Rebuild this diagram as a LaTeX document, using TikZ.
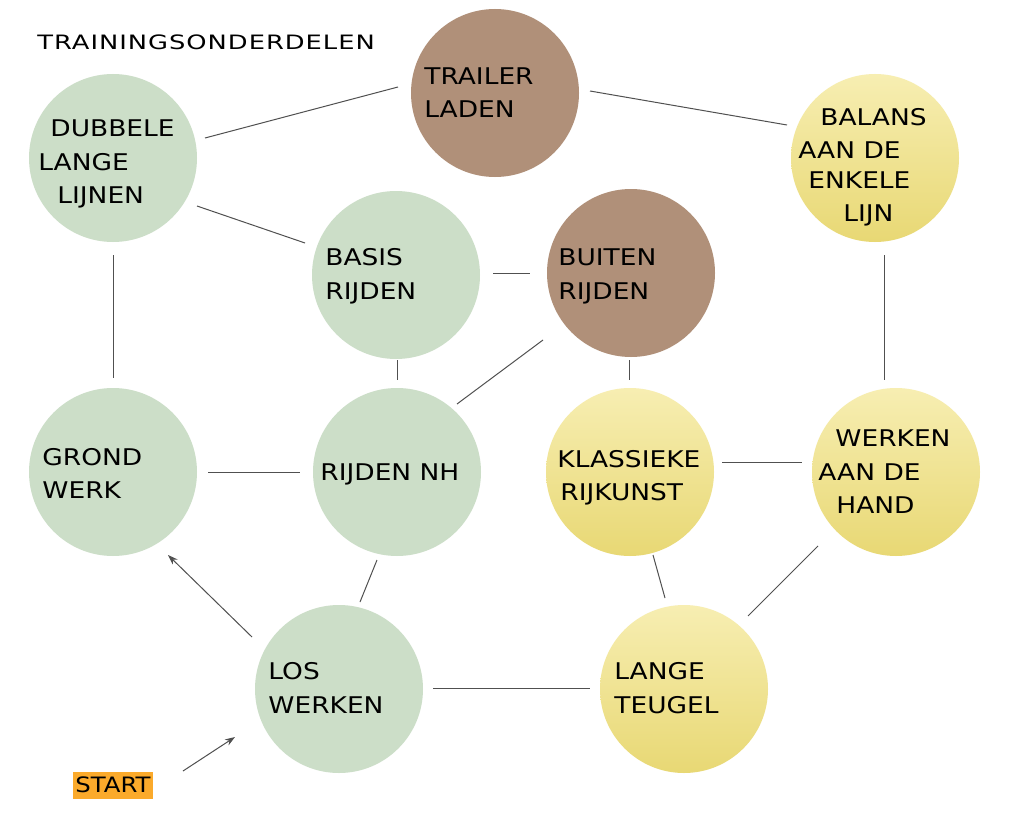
\documentclass[tikz,border=0pt]{standalone}
\usepackage{fontspec}
\setmainfont{DejaVu Sans}[FakeStretch=1.15]
\newfontfamily\titlefont{DejaVu Sans}[FakeStretch=1.3,LetterSpace=5]
\usetikzlibrary{calc,arrows.meta}
\definecolor{cgreen}{HTML}{CCDEC8}
\definecolor{cbrown}{HTML}{B09079}
\definecolor{cyeltop}{HTML}{F7EEB2}
\definecolor{cyelbot}{HTML}{E8D874}
\definecolor{corange}{HTML}{FBAA2B}
\definecolor{cline}{HTML}{505050}
\tikzset{
  circ/.style={circle,minimum size=84pt,inner sep=0pt,draw=none},
  green/.style={circ,fill=cgreen},
  brown/.style={circ,fill=cbrown},
  yellow/.style={circ,top color=cyeltop,bottom color=cyelbot},
  lbl/.style={anchor=base west,inner sep=0pt,font=\fontsize{11.5}{14}\selectfont,text=black},
  conn/.style={draw=cline,line width=0.5pt},
  arr/.style={conn,-{Stealth[length=5pt,width=3.5pt]}},
}
\begin{document}
\begin{tikzpicture}[x=0.5pt,y=-0.5pt]
\fill[white] (0,0) rectangle (1028,840);
\useasboundingbox (0,0) rectangle (1028,840);

% circles
\node[green]  (dll) at (113,158) {};
\node[brown]  (tl)  at (495,93) {};
\node[yellow] (bal) at (875,158) {};
\node[green]  (bas) at (396,275) {};
\node[brown]  (bui) at (631,273) {};
\node[green]  (gro) at (113,472) {};
\node[green]  (rnh) at (397,472) {};
\node[yellow] (kla) at (630,472) {};
\node[yellow] (wah) at (896,472) {};
\node[green]  (los) at (339,689) {};
\node[yellow] (lan) at (684,689) {};

% title
\node[anchor=base west,inner sep=0pt,font=\titlefont\fontsize{9.9}{12}\selectfont] (title) at (37,50) {TRAININGSONDERDELEN};

% labels
\node[lbl] (l1a) at (50,136) {DUBBELE};
\node[lbl] (l1b) at (38,170) {LANGE};
\node[lbl] (l1c) at (57,203) {LIJNEN};
\node[lbl] (l2a) at (424,85) {TRAILER};
\node[lbl] (l2b) at (424,118) {LADEN};
\node[lbl] (l3a) at (820,126) {BALANS};
\node[lbl] (l3b) at (798,158) {AAN DE};
\node[lbl] (l3c) at (808,189) {ENKELE};
\node[lbl] (l3d) at (843,221) {LIJN};
\node[lbl] (l4a) at (325,265) {BASIS};
\node[lbl] (l4b) at (325,299) {RIJDEN};
\node[lbl] (l5a) at (558,265) {BUITEN};
\node[lbl] (l5b) at (558,299) {RIJDEN};
\node[lbl] (l6a) at (42,465) {GROND};
\node[lbl] (l6b) at (42,498) {WERK};
\node[lbl] (l7a) at (320,480) {RIJDEN NH};
\node[lbl] (l8a) at (557,467) {KLASSIEKE};
\node[lbl] (l8b) at (560,500) {RIJKUNST};
\node[lbl] (l9a) at (835,446) {WERKEN};
\node[lbl] (l9b) at (818,480) {AAN DE};
\node[lbl] (l9c) at (836,513) {HAND};
\node[lbl] (l10a) at (268,679) {LOS};
\node[lbl] (l10b) at (268,713) {WERKEN};
\node[lbl] (l11a) at (614,679) {LANGE};
\node[lbl] (l11b) at (614,713) {TEUGEL};

% start
\node[fill=corange,minimum width=40pt,minimum height=13.5pt,inner sep=0pt,
      font=\fontsize{10.6}{12}\selectfont] (start) at (113,785) {START};

% connectors
\draw[conn] ($(dll)+(92,-20)$) -- ($(tl)+(-97,-6)$);
\draw[conn] ($(tl)+(95,-2)$) -- ($(bal)+(-88,-33)$);
\draw[conn] ($(dll)+(84,48)$) -- ($(bas)+(-91,-32)$);
\draw[conn] ($(dll)+(0,97)$) -- ($(gro)+(0,-94)$);
\draw[conn] ($(bas)+(97,-2)$) -- ($(bui)+(-101,0)$);
\draw[conn] ($(bas)+(1,85)$) -- ($(rnh)+(0,-92)$);
\draw[conn] ($(bui)+(-88,67)$) -- ($(rnh)+(60,-68)$);
\draw[conn] ($(bui)+(-2,87)$) -- ($(kla)+(-1,-92)$);
\draw[conn] ($(bal)+(9,97)$) -- ($(wah)+(-12,-92)$);
\draw[conn] ($(gro)+(95,0)$) -- ($(rnh)+(-97,0)$);
\draw[conn] ($(kla)+(92,-10)$) -- ($(wah)+(-94,-10)$);
\draw[conn] ($(rnh)+(-20,88)$) -- ($(los)+(21,-87)$);
\draw[conn] ($(kla)+(23,83)$) -- ($(lan)+(-19,-91)$);
\draw[conn] ($(wah)+(-78,74)$) -- ($(lan)+(64,-73)$);
\draw[conn] ($(los)+(94,-1)$) -- ($(lan)+(-94,-1)$);
\draw[arr] ($(los)+(-87,-52)$) -- ($(gro)+(55,83)$);
\draw[arr] ($(start)+(70,-14)$) -- ($(los)+(-104,48)$);
\end{tikzpicture}
\end{document}
